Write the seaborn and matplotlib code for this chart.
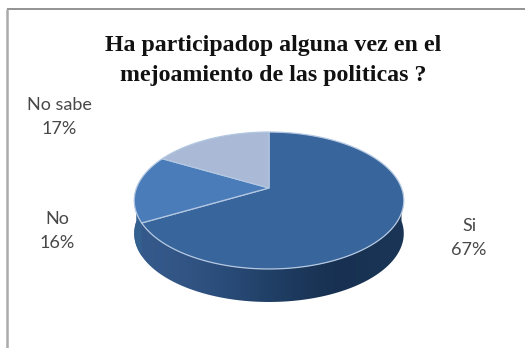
import numpy as np
import matplotlib
matplotlib.use("Agg")
import matplotlib.pyplot as plt
from matplotlib.path import Path
from matplotlib.patches import Polygon
from matplotlib.transforms import Affine2D, Transform
import seaborn as sns

title_lines = ["Ha participadop alguna vez en el", "mejoamiento de las politicas ?"]
categories = ["Si", "No", "No sabe"]
percentages = [67, 16, 17]

sns.set_theme(style="white")
slice_colors = sns.color_palette(["#38659b", "#4a7cb9", "#a9b9d6"])

CX, CY, RX, RY_K, RY_A, DEPTH = 269.0, 188.0, 132.5, 0.1825, 66.2, 33.0


class DiscProjection(Transform):
    """Tilted-disc view: unit circle to pixel coordinates, with depth foreshortening."""
    input_dims = output_dims = 2
    is_separable = False
    has_inverse = False

    def __init__(self, drop=0.0):
        super().__init__()
        self.drop = drop

    def transform_non_affine(self, pts):
        pts = np.asarray(pts, dtype=float)
        w = 1 + RY_K * pts[:, 1]
        return np.column_stack([CX + RX * pts[:, 0] / w,
                                CY - RY_A * pts[:, 1] / w + self.drop])

    def transform_path_non_affine(self, path):
        # Flatten the wedge curves at a large scale so the outline stays smooth
        polys = path.to_polygons(transform=Affine2D().scale(2000), closed_only=True)
        verts = np.vstack([p / 2000 for p in polys])
        return Path(self.transform_non_affine(verts))


def rim(theta_deg, drop=0.0):
    t = np.radians(theta_deg)
    return DiscProjection(drop).transform_non_affine(np.column_stack([np.cos(t), np.sin(t)]))


fig = plt.figure(figsize=(5.25, 3.48), dpi=100, facecolor="white")
ax = fig.add_axes([0, 0, 1, 1])

# Chart frame: only the top and left edges fall inside the canvas
ax.plot([6.5, 525], [9, 9], color="#8a8a8a", lw=1.3, zorder=1, solid_capstyle="butt")
ax.plot([6.5, 6.5], [9, 348], color="#ababab", lw=1.8, zorder=1, solid_capstyle="butt")

# Slice boundaries, clockwise from twelve o'clock
bounds = 90 - np.cumsum([0] + percentages) * 3.6

# Side wall of the disc: dark horizontal gradient clipped to the front rim band
front = np.linspace(0, -180, 181)
band = np.vstack([rim(front), rim(front[::-1], DEPTH)])
wall_shades = ["#35598a", "#2f5282", "#254670", "#1d3a5e", "#172f4f", "#1a3556"]
rgb = np.array([[matplotlib.colors.to_rgb(c) for c in wall_shades]])
img = ax.imshow(rgb, extent=(134, 404, 310, 190), aspect="auto", interpolation="bicubic", zorder=1)
img.set_clip_path(Polygon(band, closed=True, transform=ax.transData))

# The small strip of the "No" slice visible on the wall
strip_angles = np.linspace(bounds[1] + 360, 180, 30)
ax.add_patch(Polygon(np.vstack([rim(strip_angles), rim(strip_angles[::-1], DEPTH)]),
                     closed=True, fc="#33608f", ec="none", zorder=2))

# Top face
wedges, _ = ax.pie(percentages, colors=slice_colors, startangle=90, counterclock=False,
                   wedgeprops=dict(edgecolor="#b4c8e2", linewidth=0.9))
for w in wedges:
    w.set_transform(DiscProjection() + ax.transData)
    w.set_zorder(3)

ax.set_aspect("auto")
ax.set_xlim(0, 525)
ax.set_ylim(348, 0)
ax.axis("off")

# Title
for line, y in zip(title_lines, [45, 75]):
    ax.text(273, y, line, family="Liberation Serif", weight="bold", size=17.2,
            color="#111111", ha="center", va="center")

# Data labels
label_pos = {"Si": (469, 238), "No": (57, 231), "No sabe": (59, 117)}
for name, pct in zip(categories, percentages):
    x, y = label_pos[name]
    ax.text(x, y, f"{name}\n{pct}%", family="Lato", size=13, color="#484848",
            ha="center", va="center", linespacing=1.6)

fig.savefig("out.png", dpi=100)
